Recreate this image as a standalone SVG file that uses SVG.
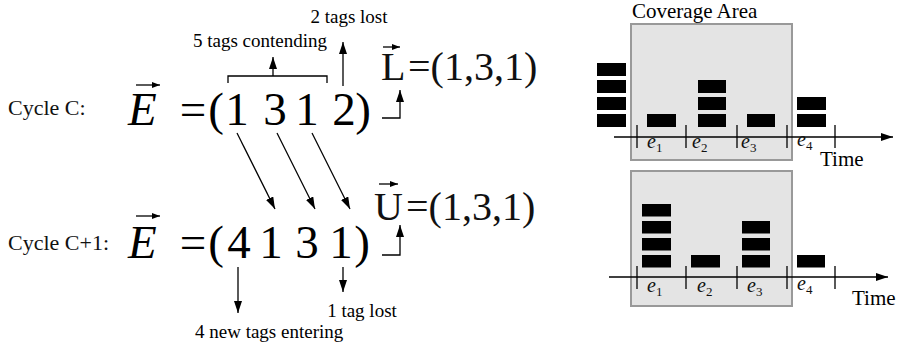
<svg xmlns="http://www.w3.org/2000/svg" width="900" height="349" viewBox="0 0 900 349" font-family="Liberation Serif">
<style>
.lbl{font-size:19px;fill:#000}
.cyc{font-size:22px;fill:#111}
.big{font-size:47px;fill:#000}
.mid{font-size:40px;fill:#111}
.ev{font-style:italic;font-size:20px;fill:#111}
.sub{font-size:13px;font-style:normal}
.tm{font-size:21px;fill:#000}
.ln{stroke:#000;stroke-width:1.3;fill:none}
.tag{fill:#000}
.box{fill:#e4e4e4;stroke:#999;stroke-width:2}
.tick{stroke:#000;stroke-width:1.3}
</style>
<defs>
<marker id="ah" viewBox="0 0 12 8" refX="12" refY="4" markerWidth="12" markerHeight="8" markerUnits="userSpaceOnUse" orient="auto">
<path d="M0,0 L12,4 L0,8 z" fill="#000"/>
</marker>
<marker id="ahs" viewBox="0 0 8 6" refX="8" refY="3" markerWidth="8" markerHeight="6" markerUnits="userSpaceOnUse" orient="auto">
<path d="M0,0 L8,3 L0,6 z" fill="#000"/>
</marker>
</defs>

<g id="cycleC" font-family="Liberation Serif">
<text class="cyc" x="8" y="115">Cycle C:</text>
<text class="big" x="128" y="125" font-style="italic" font-size="48">E</text>
<line class="ln" x1="136" y1="85" x2="160" y2="85" marker-end="url(#ahs)"/>
<text class="big" x="193" y="125" text-anchor="middle">=</text>
<text class="big" x="216" y="125" text-anchor="middle">(</text>
<text class="big" x="237" y="125" text-anchor="middle">1</text>
<text class="big" x="275" y="125" text-anchor="middle">3</text>
<text class="big" x="307" y="125" text-anchor="middle">1</text>
<text class="big" x="344" y="125" text-anchor="middle">2</text>
<text class="big" x="363" y="125" text-anchor="middle">)</text>
</g>

<g id="contending" font-family="Liberation Serif">
<text class="lbl" x="260" y="47" text-anchor="middle">5 tags contending</text>
</g>
<g id="lost2" font-family="Liberation Serif">
<text class="lbl" x="349" y="23" text-anchor="middle">2 tags lost</text>
</g>

<g id="vecL" font-family="Liberation Serif">
<text class="mid" x="381" y="80">L</text>
<line class="ln" x1="383" y1="47" x2="400" y2="47" marker-end="url(#ahs)"/>
<text class="mid" x="408" y="80">=(1,3,1)</text>
</g>

<g id="cycleC1" font-family="Liberation Serif">
<text class="cyc" x="8" y="250">Cycle C+1:</text>
<text class="big" x="128" y="258" font-style="italic" font-size="48">E</text>
<line class="ln" x1="136" y1="216" x2="160" y2="216" marker-end="url(#ahs)"/>
<text class="big" x="193" y="258" text-anchor="middle">=</text>
<text class="big" x="216" y="258" text-anchor="middle">(</text>
<text class="big" x="239" y="258" text-anchor="middle">4</text>
<text class="big" x="271" y="258" text-anchor="middle">1</text>
<text class="big" x="307" y="258" text-anchor="middle">3</text>
<text class="big" x="341" y="258" text-anchor="middle">1</text>
<text class="big" x="362" y="258" text-anchor="middle">)</text>
</g>

<g id="vecU" font-family="Liberation Serif">
<text class="mid" x="374" y="220">U</text>
<line class="ln" x1="379" y1="184" x2="398" y2="184" marker-end="url(#ahs)"/>
<text class="mid" x="406" y="220">=(1,3,1)</text>
</g>

<g id="lost1" font-family="Liberation Serif">
<text class="lbl" x="362" y="317" text-anchor="middle">1 tag lost</text>
</g>
<g id="entering" font-family="Liberation Serif">
<text class="lbl" x="195" y="338">4 new tags entering</text>
</g>

<g id="connectors">
<path class="ln" d="M228,83 V76 H327 V83"/>
<line class="ln" x1="273" y1="76" x2="273" y2="57" marker-end="url(#ah)"/>
<line class="ln" x1="343" y1="86" x2="343" y2="42" marker-end="url(#ah)"/>
<path class="ln" d="M382,118 H400 V90" marker-end="url(#ah)"/>
<line class="ln" x1="237" y1="133" x2="275" y2="209" marker-end="url(#ah)"/>
<line class="ln" x1="277" y1="133" x2="315" y2="209" marker-end="url(#ah)"/>
<line class="ln" x1="312" y1="133" x2="350" y2="209" marker-end="url(#ah)"/>
<path class="ln" d="M382,255 H400 V225" marker-end="url(#ah)"/>
<line class="ln" x1="343" y1="267" x2="343" y2="292" marker-end="url(#ah)"/>
<line class="ln" x1="238" y1="267" x2="238" y2="313" marker-end="url(#ah)"/>
</g>

<g id="chartTop" font-family="Liberation Serif">
<text class="tm" x="632" y="18" font-size="21">Coverage Area</text>
<rect class="box" x="631" y="24" width="161" height="136"/>
<rect class="tag" x="597" y="63" width="29" height="13"/>
<rect class="tag" x="597" y="80" width="29" height="13"/>
<rect class="tag" x="597" y="97" width="29" height="13"/>
<rect class="tag" x="597" y="114" width="29" height="13"/>
<rect class="tag" x="647" y="114" width="29" height="13"/>
<rect class="tag" x="698" y="80" width="28" height="13"/>
<rect class="tag" x="698" y="97" width="28" height="13"/>
<rect class="tag" x="698" y="114" width="28" height="13"/>
<rect class="tag" x="747" y="114" width="28" height="13"/>
<rect class="tag" x="797" y="97" width="29" height="13"/>
<rect class="tag" x="797" y="114" width="29" height="13"/>
<line class="ln" x1="614" y1="137" x2="893" y2="137" marker-end="url(#ah)"/>
<line class="tick" x1="637" y1="125" x2="637" y2="148"/>
<line class="tick" x1="686" y1="125" x2="686" y2="148"/>
<line class="tick" x1="737" y1="125" x2="737" y2="148"/>
<line class="tick" x1="787" y1="125" x2="787" y2="148"/>
<line class="tick" x1="835" y1="125" x2="835" y2="148"/>
<text class="ev" x="647" y="148">e<tspan class="sub" dy="4">1</tspan></text>
<text class="ev" x="692" y="148">e<tspan class="sub" dy="4">2</tspan></text>
<text class="ev" x="741" y="148">e<tspan class="sub" dy="4">3</tspan></text>
<text class="ev" x="797" y="146">e<tspan class="sub" dy="4">4</tspan></text>
<text class="tm" x="820" y="166">Time</text>
</g>

<g id="chartBottom" font-family="Liberation Serif">
<rect class="box" x="631" y="171" width="161" height="135"/>
<rect class="tag" x="642" y="204" width="29" height="12.5"/>
<rect class="tag" x="642" y="221" width="29" height="12.5"/>
<rect class="tag" x="642" y="238" width="29" height="12.5"/>
<rect class="tag" x="642" y="255" width="29" height="12.5"/>
<rect class="tag" x="691" y="255" width="29" height="12.5"/>
<rect class="tag" x="742" y="221" width="28" height="12.5"/>
<rect class="tag" x="742" y="238" width="28" height="12.5"/>
<rect class="tag" x="742" y="255" width="28" height="12.5"/>
<rect class="tag" x="797" y="255" width="28" height="12.5"/>
<line class="ln" x1="609" y1="277" x2="888" y2="277" marker-end="url(#ah)"/>
<line class="tick" x1="637" y1="266" x2="637" y2="289"/>
<line class="tick" x1="686" y1="266" x2="686" y2="289"/>
<line class="tick" x1="737" y1="266" x2="737" y2="289"/>
<line class="tick" x1="787" y1="266" x2="787" y2="289"/>
<line class="tick" x1="835" y1="266" x2="835" y2="289"/>
<text class="ev" x="647" y="292">e<tspan class="sub" dy="4">1</tspan></text>
<text class="ev" x="697" y="292">e<tspan class="sub" dy="4">2</tspan></text>
<text class="ev" x="747" y="292">e<tspan class="sub" dy="4">3</tspan></text>
<text class="ev" x="797" y="290">e<tspan class="sub" dy="4">4</tspan></text>
<text class="tm" x="852" y="305">Time</text>
</g>
</svg>
